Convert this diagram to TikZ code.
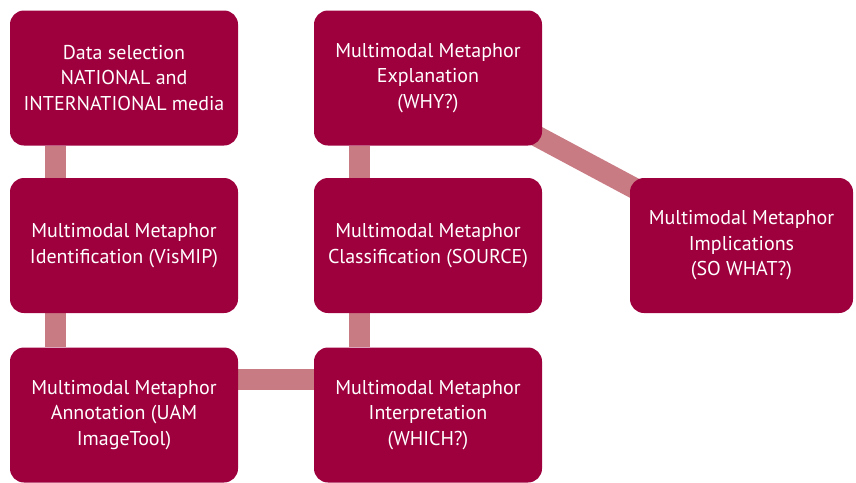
\documentclass[tikz,border=0pt]{standalone}
\usepackage{fontspec}
\setmainfont{PT Sans}
\usetikzlibrary{backgrounds}
\definecolor{boxred}{RGB}{158,0,62}
\definecolor{linkpink}{RGB}{201,123,132}

\begin{document}
\begin{tikzpicture}[x=1pt,y=1pt,yscale=-1,xscale=1,
  stepbox/.style={fill=boxred,text=white,rounded corners=14pt,inner sep=0pt,
    minimum width=228pt,minimum height=135pt,align=center,
    font=\fontsize{20}{25.5}\selectfont},
  link/.style={draw=linkpink,line width=21pt}]
\useasboundingbox (0,0) rectangle (856,482);

%left column
\node[stepbox] (sel) at (124,78) {Data selection\\NATIONAL and\\INTERNATIONAL media};
\node[stepbox] (ident) at (124,245.5) {Multimodal Metaphor\\Identification (VisMIP)};
\node[stepbox] (annot) at (124,415) {Multimodal Metaphor\\Annotation (UAM\\ImageTool)};
%middle column
\node[stepbox] (expl) at (428,78) {Multimodal Metaphor\\Explanation\\(WHY?)};
\node[stepbox] (class) at (428,245.5) {Multimodal Metaphor\\Classification (SOURCE)};
\node[stepbox] (interp) at (428,415) {Multimodal Metaphor\\Interpretation\\(WHICH?)};
%right
\node[stepbox,minimum width=223pt] (impl) at (741.5,245.5) {Multimodal Metaphor\\Implications\\(SO WHAT?)};

%links
\begin{scope}[on background layer]
\draw[link] ([xshift=45.5pt]sel.south west) -- ([xshift=45.5pt]ident.north west);
\draw[link] ([xshift=45.5pt]ident.south west) -- ([xshift=45.5pt]annot.north west);
\draw[link] ([yshift=32.5pt]annot.north east) -- ([yshift=32.5pt]interp.north west);
\draw[link] ([xshift=45.5pt]interp.north west) -- ([xshift=45.5pt]class.south west);
\draw[link] ([xshift=45.5pt]class.north west) -- ([xshift=45.5pt]expl.south west);
\draw[link] (expl.center) -- (impl.center);
\end{scope}

\end{tikzpicture}
\end{document}
